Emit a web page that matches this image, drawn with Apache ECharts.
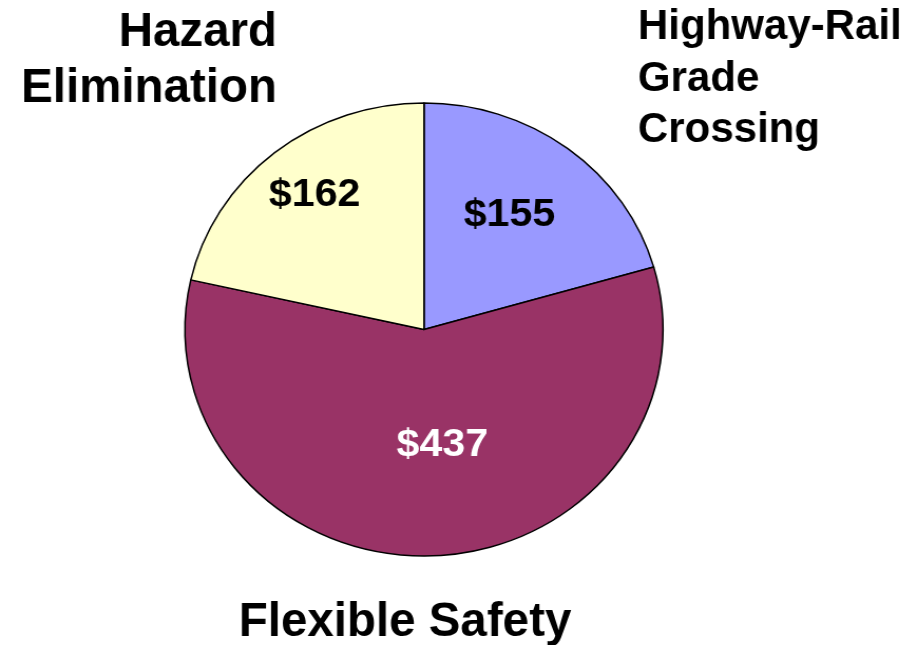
<!DOCTYPE html>
<html>
<head>
<meta charset="utf-8">
<script src="https://cdn.jsdelivr.net/npm/echarts@6/dist/echarts.min.js"></script>
<style>
	html, body { margin: 0; padding: 0; background: #fff; overflow: hidden; }
	/* the pie in the reference is a little wider than tall, so stretch the chart */
	#pie_chart_container {
		width: 862px;
		height: 645px;
		transform: scaleX(1.0552);
		transform-origin: 0 0;
	}
</style>
</head>
<body>
<div id="pie_chart_container"></div>
<script>
const categories = ["Highway-Rail Grade Crossing", "Flexible Safety", "Hazard Elimination"]
const amounts = [155, 437, 162]
const sliceColors = ["#9999FF", "#993366", "#FFFFCC"]
const valueLabelColors = ["#000000", "#FFFFFF", "#000000"]
// nudges for the value labels inside the slices
const labelShift = [[11, -21], [14, 0], [-31, -43]]

const stretch = 1.0552
const fontFamily = "'Liberation Sans', Arial, sans-serif"

function nameText(name, x, y, size, lineHeight, align) {
	return {
		type: "text",
		x: x / stretch,
		y: y,
		scaleX: 1 / stretch,
		style: {
			text: name,
			fill: "#000",
			font: `bold ${size}px ${fontFamily}`,
			textAlign: align,
			align: align,
			textVerticalAlign: "top",
			verticalAlign: "top",
			lineHeight: lineHeight,
		},
	}
}

const chart = echarts.init(document.getElementById("pie_chart_container"))
chart.setOption({
	animation: false,
	backgroundColor: "#fff",
	graphic: [
		nameText("Hazard\nElimination", 277, 5, 47.5, 56, "right"),
		nameText("Highway-Rail\nGrade\nCrossing", 638, 2, 42, 51.5, "left"),
		nameText(categories[1], 405, 595, 47.5, 56, "center"),
	],
	series: [
		{
			type: "pie",
			center: [424 / stretch, 329.5],
			radius: 226.5,
			startAngle: 90,
			clockwise: true,
			avoidLabelOverlap: false,
			emphasis: { disabled: true },
			itemStyle: {
				borderColor: "#000",
				borderWidth: 1.5,
			},
			label: {
				position: "inside",
				formatter: (p) => "$" + p.value,
				fontFamily: fontFamily,
				fontWeight: "bold",
				fontSize: 39,
			},
			labelLine: { show: false },
			labelLayout: (p) => ({
				dx: labelShift[p.dataIndex][0],
				dy: labelShift[p.dataIndex][1],
			}),
			data: categories.map((name, i) => ({
				name: name,
				value: amounts[i],
				itemStyle: { color: sliceColors[i] },
				label: { color: valueLabelColors[i] },
			})),
		},
	],
})
</script>
</body>
</html>
